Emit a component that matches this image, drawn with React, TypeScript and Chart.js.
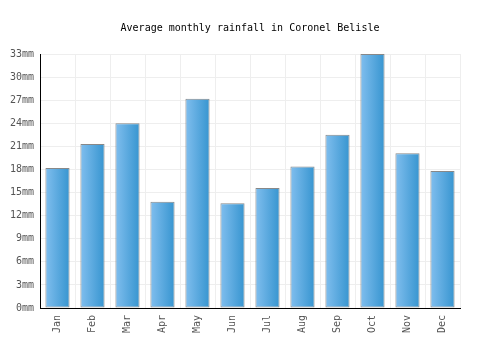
import React, { useEffect, useRef } from "react";
import { Chart, registerables } from "chart.js";

Chart.register(...registerables);

const months = ["Jan", "Feb", "Mar", "Apr", "May", "Jun", "Jul", "Aug", "Sep", "Oct", "Nov", "Dec"];
const rainfall = [18.2, 21.3, 24.0, 13.8, 27.2, 13.6, 15.6, 18.4, 22.5, 33.0, 20.1, 17.8];
const yMax = 33;
const yStep = 3;
const titleText = "Average monthly rainfall in Coronel Belisle";

const FONT = "'DejaVu Sans Mono', 'Liberation Mono', monospace";

const titlePlugin = {
  id: "centerTitle",
  afterDraw(chart: any) {
    const ctx = chart.ctx;
    ctx.save();
    ctx.font = `10px ${FONT}`;
    ctx.fillStyle = "#000";
    ctx.textAlign = "center";
    ctx.textBaseline = "middle";
    ctx.fillText(titleText, chart.width / 2, 28);
    ctx.restore();
  },
};

export default function App() {
  const ref = useRef<HTMLCanvasElement>(null);
  useEffect(() => {
    const canvas = ref.current!;
    const chart = new Chart(canvas, {
      type: "bar",
      data: {
        labels: months,
        datasets: [
          {
            data: rainfall,
            backgroundColor: (ctx: any) => {
              const c = ctx.chart;
              const xs = c.scales && c.scales.x;
              if (!xs || !c.chartArea || ctx.dataIndex === undefined) return "#5aaae0";
              const cx = xs.getPixelForValue(ctx.dataIndex);
              const half = 12;
              const g = c.ctx.createLinearGradient(cx - half, 0, cx + half, 0);
              g.addColorStop(0, "#80beee");
              g.addColorStop(1, "#3795d0");
              return g;
            },
            borderColor: "#888888",
            borderWidth: 1,
            borderSkipped: false,
            barPercentage: 0.69,
            categoryPercentage: 1,
          },
        ],
      },
      plugins: [titlePlugin],
      options: {
        animation: false,
        responsive: false,
        maintainAspectRatio: false,
        layout: { padding: { left: 0, right: 40, top: 54, bottom: 0 } },
        plugins: {
          legend: { display: false },
          tooltip: { enabled: false },
          title: { display: false },
        },
        scales: {
          x: {
            grid: { color: "#eeeeee", drawTicks: false, offset: true },
            border: { color: "#000", width: 1 },
            ticks: {
              color: "#555",
              font: { family: FONT, size: 10 },
              minRotation: 90,
              maxRotation: 90,
              padding: 7,
            },
            afterFit: (s: any) => {
              s.height = 42;
            },
          },
          y: {
            min: 0,
            max: yMax,
            grid: { color: "#eeeeee", drawTicks: false },
            border: { color: "#000", width: 1 },
            ticks: {
              stepSize: yStep,
              color: "#555",
              font: { family: FONT, size: 10 },
              padding: 6,
              callback: (v: any) => v + "mm",
            },
            afterFit: (s: any) => {
              s.width = 40;
            },
          },
        },
      },
    });
    return () => chart.destroy();
  }, []);
  return (
    <div style={{ position: "fixed", left: 0, top: 0, width: 500, height: 350 }}>
      <canvas ref={ref} width={500} height={350} style={{ width: 500, height: 350 }} />
    </div>
  );
}
